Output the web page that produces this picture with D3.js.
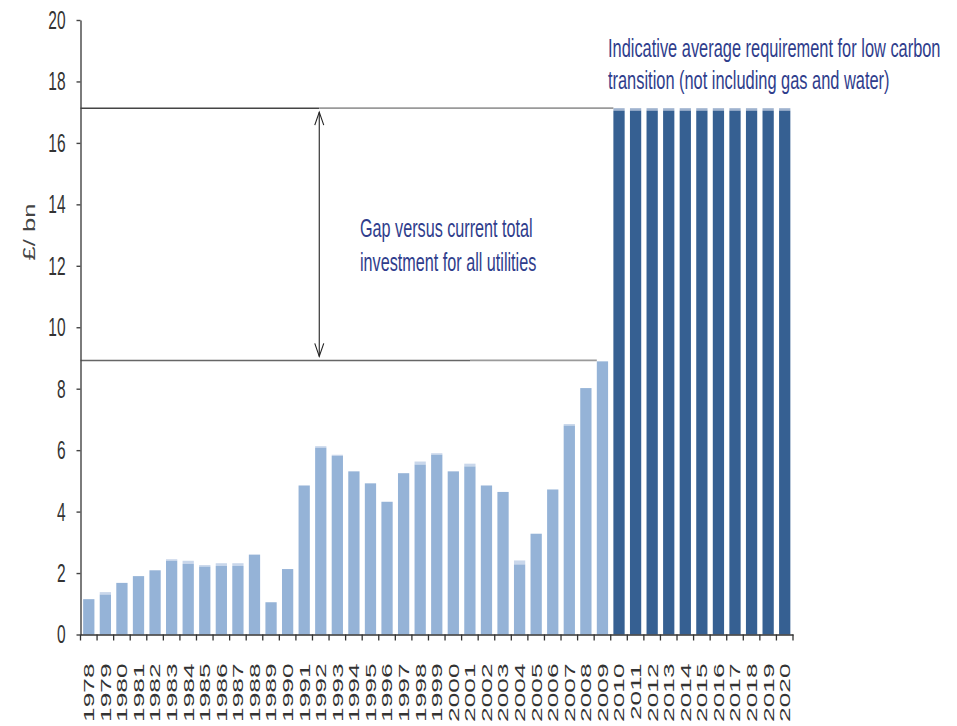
<!DOCTYPE html>
<html><head><meta charset="utf-8">
<script src="https://cdn.jsdelivr.net/npm/d3@7/dist/d3.min.js"></script>
<style>
body{margin:0;background:#fff;}
svg text{font-family:"Liberation Sans",Arial,sans-serif;}
</style></head>
<body><svg id="c" width="957" height="726"></svg>
<script>
// ---- data ----
const years = d3.range(1978, 2021).map(String);
const historicYears = years.filter(y => +y <= 2009);
const requiredYears = years.filter(y => +y >= 2010);
const historicValues = [1.15,1.30,1.68,1.90,2.09,2.40,2.30,2.21,2.23,2.23,2.60,1.05,2.13,4.85,6.08,5.81,5.31,4.92,4.32,5.25,5.53,5.85,5.31,5.47,4.85,4.64,2.28,3.28,4.72,6.80,8.02,8.89];
const historicCaps   = [0,0.08,0,0,0,0.05,0.10,0.05,0.09,0.09,0,0,0,0,0.05,0.04,0,0,0,0,0.10,0.05,0,0.09,0,0,0.13,0,0,0.05,0,0];
const requiredValues = [17.05,17.05,17.05,17.05,17.05,17.05,17.05,17.05,17.05,17.05,17.05];
const requiredCaps   = [0.08,0.08,0.08,0.08,0.08,0.08,0.08,0.08,0.08,0.08,0.08];
const yTicks = [0,2,4,6,8,10,12,14,16,18,20];
const requirementLevel = 17.13;
const currentLevel = 8.92;
const yLabel = "£/ bn";
const gapText = ["Gap versus current total", "investment for all utilities"];
const reqText = ["Indicative average requirement for low carbon", "transition (not including gas and water)"];

const S = 1.7; // vertical stretch of text
const svg = d3.select("#c");
const x = d3.scaleBand().domain(years).range([80.5, 793]).paddingInner(0.32).paddingOuter(0.16);
const y = d3.scaleLinear().domain([0, 20]).range([634.5, 20]);

const bars = [];
historicYears.forEach((yr,i)=>bars.push({yr, v:historicValues[i], c:historicCaps[i], fill:"#95b3d7", cap:"#c9d7eb"}));
requiredYears.forEach((yr,i)=>bars.push({yr, v:requiredValues[i], c:requiredCaps[i], fill:"#366092", cap:"#9fb3cf"}));

// caps (pale top segment)
svg.append("g").selectAll("rect").data(bars.filter(d=>d.c>0)).join("rect")
  .attr("x", d=>x(d.yr)).attr("width", x.bandwidth())
  .attr("y", d=>y(d.v + d.c)).attr("height", d=>y(d.v) - y(d.v + d.c))
  .attr("fill", d=>d.cap);
svg.append("g").selectAll("rect").data(bars).join("rect")
  .attr("x", d=>x(d.yr)).attr("width", x.bandwidth())
  .attr("y", d=>y(d.v)).attr("height", d=>y(0) - y(d.v))
  .attr("fill", d=>d.fill);

// reference lines
const arrowX = x("1992") + x.bandwidth()/2 - 1.5;
const gTop = svg.append("g");
gTop.append("line").attr("x1", 80.5).attr("x2", arrowX).attr("y1", y(requirementLevel)).attr("y2", y(requirementLevel)).attr("stroke", "#444").attr("stroke-width", 1.6);
gTop.append("line").attr("x1", arrowX).attr("x2", x("2010")).attr("y1", y(requirementLevel)).attr("y2", y(requirementLevel)).attr("stroke", "#9a9a9a").attr("stroke-width", 1.8);
const midX = 470;
gTop.append("line").attr("x1", 80.5).attr("x2", midX).attr("y1", y(currentLevel)).attr("y2", y(currentLevel)).attr("stroke", "#666").attr("stroke-width", 1.6);
gTop.append("line").attr("x1", midX).attr("x2", x("2009")).attr("y1", y(currentLevel)).attr("y2", y(currentLevel)).attr("stroke", "#9a9a9a").attr("stroke-width", 1.8);

// double arrow
const a1 = y(requirementLevel) + 4, a2 = y(currentLevel) - 4;
const ga = svg.append("g").attr("stroke", "#222").attr("stroke-width", 1.1).attr("fill", "none");
ga.append("line").attr("x1", arrowX).attr("x2", arrowX).attr("y1", a1).attr("y2", a2);
ga.append("path").attr("d", `M${arrowX-4.5},${a1+13}L${arrowX},${a1}L${arrowX+4.5},${a1+13}`);
ga.append("path").attr("d", `M${arrowX-4.5},${a2-13}L${arrowX},${a2}L${arrowX+4.5},${a2-13}`);

// y axis
const yAxis = svg.append("g").attr("transform", "translate(80.5,0)")
  .call(d3.axisLeft(y).tickValues(yTicks).tickSize(4).tickPadding(11).tickSizeOuter(0));
yAxis.select(".domain").attr("stroke", "#444").attr("stroke-width", 1.4);
yAxis.selectAll(".tick line").attr("stroke", "#444").attr("stroke-width", 1.4);
yAxis.selectAll(".tick text").attr("font-size", 15.5).attr("fill", "#333")
  .attr("transform", `scale(1,${S})`);

// x axis
const xAxis = svg.append("g").attr("transform", `translate(0,${y(0)})`)
  .call(d3.axisBottom(x).tickSize(0).tickSizeOuter(0));
xAxis.select(".domain").attr("stroke", "#333").attr("stroke-width", 1.6);
xAxis.selectAll(".tick text").attr("font-size", 15.5).attr("fill", "#333")
  .attr("text-anchor", "end").attr("x", -17).attr("y", 0).attr("dy", "0.35em")
  .attr("transform", `scale(1,${S}) rotate(-90)`);
const bounds = years.map(yr => x(yr) - x.step()*x.paddingInner()/2).concat([x(years[years.length-1]) + x.bandwidth() + x.step()*x.paddingInner()/2]);
xAxis.append("g").selectAll("line").data(bounds).join("line")
  .attr("x1", d=>d).attr("x2", d=>d).attr("y1", 0).attr("y2", 6)
  .attr("stroke", "#333").attr("stroke-width", 1.3);

// y label
svg.append("text").attr("transform", `translate(29,232) scale(1,1.6) rotate(-90)`)
  .attr("text-anchor", "middle").attr("dy", "0.35em").attr("font-size", 16).attr("fill", "#444").text(yLabel);

// annotations
function multi(lines, x0, baselines, size) {
  lines.forEach((t,i)=>{
    svg.append("text").attr("transform", `translate(${x0},${baselines[i]}) scale(1,1.55)`)
      .attr("font-size", size).attr("fill", "#2f3d8c").text(t);
  });
}
multi(gapText, 360, [237, 271], 16.2);
multi(reqText, 608, [57, 89], 16.4);
</script></body></html>
